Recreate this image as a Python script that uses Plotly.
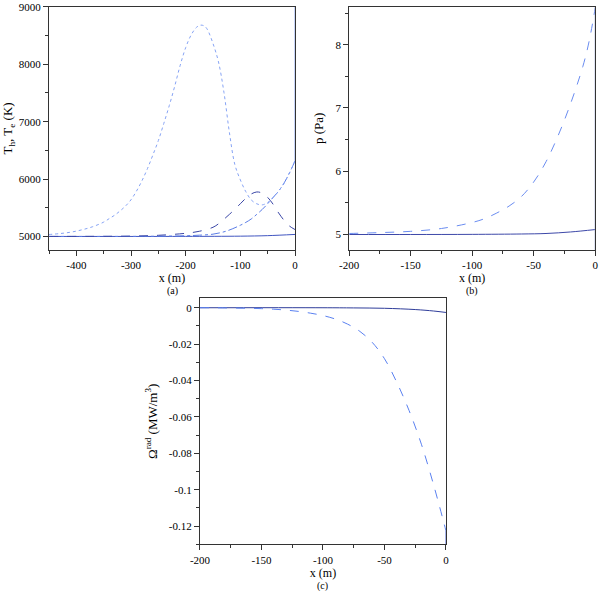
import plotly.graph_objects as go

# ---- panel (a): temperatures ----
xa_dot = [-450, -430, -410, -390, -370, -350, -340, -330, -320, -310, -300, -290, -280, -270,
          -260, -250, -240, -230, -220, -210, -200, -190, -180, -172, -165, -160, -150, -140,
          -130, -120, -110, -100, -90, -80, -70, -60, -50, -40, -30, -20, -10, 0]
Ta_dot = [5034, 5050, 5075, 5115, 5170, 5250, 5310, 5370, 5445, 5530, 5640, 5790, 5970, 6180,
          6420, 6670, 6970, 7280, 7620, 7983, 8290, 8510, 8645, 8682, 8660, 8600, 8360, 8040,
          7510, 6810, 6250, 5985, 5780, 5635, 5569, 5550, 5592, 5680, 5790, 5930, 6110, 6316]
Ta_wall = [6316, 9001]

xa_dash = [-450, -350, -300, -250, -200, -175, -150, -140, -130, -120, -110, -100, -90, -80,
           -70, -60, -50, -40, -30, -20, -10, 0]
Ta_dash = [5000, 5002, 5006, 5020, 5055, 5090, 5160, 5220, 5300, 5385, 5475, 5570, 5665, 5740,
           5775, 5755, 5680, 5560, 5410, 5280, 5180, 5120]

xa_dashdot = [-450, -300, -250, -200, -175, -150, -125, -100, -90, -80, -70, -60, -50, -40,
              -30, -20, -10, 0]
Ta_dashdot = [5000, 5001, 5004, 5012, 5022, 5040, 5095, 5195, 5245, 5305, 5385, 5470, 5570,
              5680, 5790, 5930, 6110, 6316]

xa_solid = [-450, -300, -200, -100, -50, 0]
Ta_solid = [5000, 5000, 5001, 5005, 5014, 5035]

# ---- panel (b): pressure ----
xb_dash = [-200, -175, -150, -125, -100, -90, -80, -70, -60, -50, -40, -30, -20, -10, -5, 0]
pb_dash = [5.016, 5.03, 5.05, 5.095, 5.19, 5.25, 5.34, 5.45, 5.6, 5.83, 6.15, 6.57, 7.07, 7.66,
           8.05, 8.58]
xb_solid = [-200, -150, -100, -60, -40, -20, 0]
pb_solid = [5.0, 5.0, 5.002, 5.008, 5.016, 5.04, 5.078]
pb_wall = [4.755, 8.6]

# ---- panel (c): radiation ----
xc_dash = [-200, -190, -180, -170, -160, -150, -140, -130, -120, -110, -100, -90, -80, -70,
           -60, -50, -40, -30, -20, -10, 0]
wc_dash = [0.0, 0.0, -0.0001, -0.0002, -0.0003, -0.0005, -0.0008, -0.0013, -0.002, -0.003,
           -0.0043, -0.0062, -0.009, -0.013, -0.019, -0.028, -0.041, -0.0565, -0.075, -0.0975,
           -0.1226]
wc_wall = [-0.1226, -0.13]
xc_solid = [-200, -100, -75, -50, -25, -10, 0]
wc_solid = [0.0, 0.0, -0.0001, -0.0003, -0.001, -0.0018, -0.0026]

# tick labels
xa_ticks = [-400, -300, -200, -100, 0]
xa_text = ["-400", "-300", "-200", "-100", "0"]
ya_ticks = [5000, 6000, 7000, 8000, 9000]
ya_text = ["5000", "6000", "7000", "8000", "9000"]
xb_ticks = [-200, -150, -100, -50, 0]
xb_text = ["-200", "-150", "-100", "-50", "0"]
yb_ticks = [5, 6, 7, 8]
yb_text = ["5", "6", "7", "8"]
yc_ticks = [0, -0.02, -0.04, -0.06, -0.08, -0.1, -0.12]
yc_text = ["0", "-0.02", "-0.04", "-0.06", "-0.08", "-0.1", "-0.12"]

FONT = "Liberation Serif, Times New Roman, serif"


def line(x, y, color, dash, xa, ya, shape="spline"):
    return go.Scatter(x=x, y=y, mode="lines", xaxis=xa, yaxis=ya, showlegend=False,
                      line=dict(color=color, width=1, dash=dash, shape=shape, smoothing=1),
                      hoverinfo="skip")


fig = go.Figure()
fig.add_trace(line(xa_solid, Ta_solid, "#4055c0", "solid", "x", "y"))
fig.add_trace(line(xa_dashdot, Ta_dashdot, "#5b7de6", "dashdot", "x", "y"))
fig.add_trace(line(xa_dash, Ta_dash, "#3a46a6", "dash", "x", "y"))
fig.add_trace(line(xa_dot, Ta_dot, "#86a3f4", "dot", "x", "y"))
fig.add_trace(line([0, 0], Ta_wall, "#8ea8f2", "solid", "x", "y", "linear"))

fig.add_trace(line(xb_solid, pb_solid, "#3d48a8", "solid", "x2", "y2"))
fig.add_trace(line(xb_dash, pb_dash, "#6a8cf0", "dash", "x2", "y2"))
fig.add_trace(line([0, 0], pb_wall, "#9aa8d8", "solid", "x2", "y2", "linear"))

fig.add_trace(line(xc_solid, wc_solid, "#2f3d9a", "solid", "x3", "y3"))
fig.add_trace(line(xc_dash, wc_dash, "#5a80f0", "dash", "x3", "y3"))
fig.add_trace(line([0, 0], wc_wall, "#5a70d8", "solid", "x3", "y3", "linear"))


def ax(domain, rng, tv, tt, minor, anchor, title, standoff, tsize=13):
    return dict(domain=domain, range=rng, anchor=anchor, tickvals=tv, ticktext=tt,
                ticks="outside", ticklen=5, tickcolor="#333", tickwidth=1,
                minor=dict(dtick=minor, ticks="outside", ticklen=3, tickcolor="#333"),
                showline=True, linecolor="#333", linewidth=1, mirror=True,
                showgrid=False, zeroline=False, ticklabeloverflow="allow",
                tickfont=dict(family=FONT, size=11, color="black"),
                title=dict(text=title, font=dict(family=FONT, size=tsize, color="black"),
                           standoff=standoff),
                automargin=False)


def label(text, x, ypx):
    return dict(text=text, x=x, y=1 - ypx / 591, xref="paper", yref="paper",
                xanchor="center", yanchor="middle", showarrow=False,
                font=dict(family=FONT, size=10, color="black"))


fig.update_layout(
    width=600, height=591,
    margin=dict(l=0, r=0, t=0, b=0),
    paper_bgcolor="white", plot_bgcolor="white",
    xaxis=ax([0.0817, 0.4917], [-450, 0], xa_ticks, xa_text, 50, "y", "x (m)", 0, 12),
    yaxis=ax([0.577, 0.9885], [4764, 9001], ya_ticks, ya_text, 500, "x",
             "T<sub>h</sub>, T<sub>e</sub> (K)", 12),
    xaxis2=ax([0.582, 0.992], [-200, 0], xb_ticks, xb_text, 25, "y2", "x (m)", 0, 12),
    yaxis2=ax([0.577, 0.9885], [4.755, 8.6], yb_ticks, yb_text, 0.5, "x2", "p (Pa)", 8),
    xaxis3=ax([0.3333, 0.7433], [-200, 0], xb_ticks, xb_text, 25, "y3", "x (m)", 0, 12),
    yaxis3=ax([0.079, 0.4953], [-0.13, 0.0052], yc_ticks, yc_text, 0.01, "x3",
              "Ω<sup>rad</sup> (MW/m<sup>3</sup>)", 8),
    annotations=[
        label("(a)", 0.2867, 291),
        label("(b)", 0.787, 291),
        label("(c)", 0.5383, 585.5),
    ],
)

fig.write_html("out.html", config={"displayModeBar": False},
               post_script="document.body.style.margin='0px';")
